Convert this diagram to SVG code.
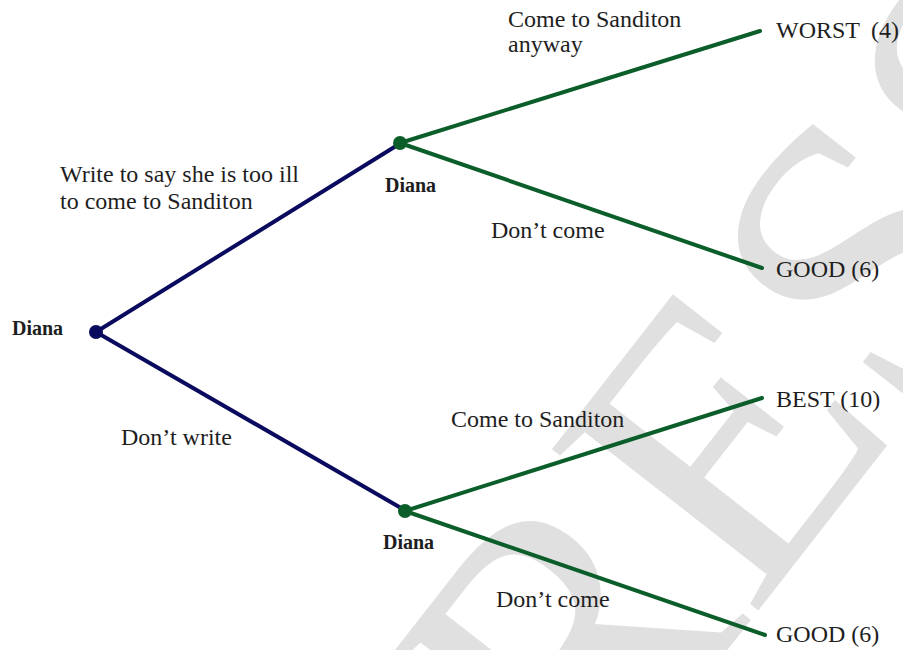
<svg xmlns="http://www.w3.org/2000/svg" width="903" height="650" viewBox="0 0 903 650">
<style>
.lbl{font-family:"Liberation Serif","Times New Roman",serif;font-size:24px;fill:#1e1e1e}
.out{font-family:"Liberation Serif","Times New Roman",serif;font-size:24px;fill:#1e1e1e}
.nm{font-family:"Liberation Serif","Times New Roman",serif;font-size:20px;font-weight:bold;fill:#1e1e1e}
.navy{stroke:#0a0a5e;stroke-width:4;fill:none;stroke-linecap:round}
.green{stroke:#0b5e2a;stroke-width:4;fill:none;stroke-linecap:round}
.wm{font-family:"Liberation Serif","Times New Roman",serif;font-size:400px;fill:#e0e0e0}
</style>
<rect width="903" height="650" fill="#fff"/>
<text class="wm" transform="translate(450,1005) rotate(-52)">PRESS</text>
<g id="connectors">
<line class="navy" x1="96" y1="332" x2="396" y2="146"/>
<line class="navy" x1="96" y1="332" x2="401" y2="508"/>
<line class="green" x1="400" y1="143" x2="760" y2="31"/>
<line class="green" x1="400" y1="143" x2="762" y2="268"/>
<line class="green" x1="405" y1="511" x2="762" y2="398"/>
<line class="green" x1="405" y1="511" x2="765" y2="635"/>
</g>
<g id="root">
<circle cx="96" cy="332" r="7" fill="#0a0a5e"/>
<text class="nm" x="12" y="335">Diana</text>
</g>
<g id="upper">
<circle cx="400" cy="143" r="7" fill="#0b5e2a"/>
<text class="nm" x="385" y="192">Diana</text>
</g>
<g id="lower">
<circle cx="405" cy="511" r="7" fill="#0b5e2a"/>
<text class="nm" x="383" y="549">Diana</text>
</g>
<g id="labels">
<text class="lbl" x="60" y="182">Write to say she is too ill</text>
<text class="lbl" x="60" y="209">to come to Sanditon</text>
<text class="lbl" x="121" y="445">Don’t write</text>
<text class="lbl" x="508" y="27">Come to Sanditon</text>
<text class="lbl" x="508" y="52">anyway</text>
<text class="lbl" x="491" y="238">Don’t come</text>
<text class="lbl" x="451" y="427">Come to Sanditon</text>
<text class="lbl" x="496" y="607">Don’t come</text>
</g>
<g id="out1"><text class="out" x="776" y="38">WORST</text><text class="out" x="871" y="38">(4)</text></g>
<g id="out2"><text class="out" x="776" y="277">GOOD (6)</text></g>
<g id="out3"><text class="out" x="776" y="407">BEST (10)</text></g>
<g id="out4"><text class="out" x="776" y="642">GOOD (6)</text></g>
</svg>
